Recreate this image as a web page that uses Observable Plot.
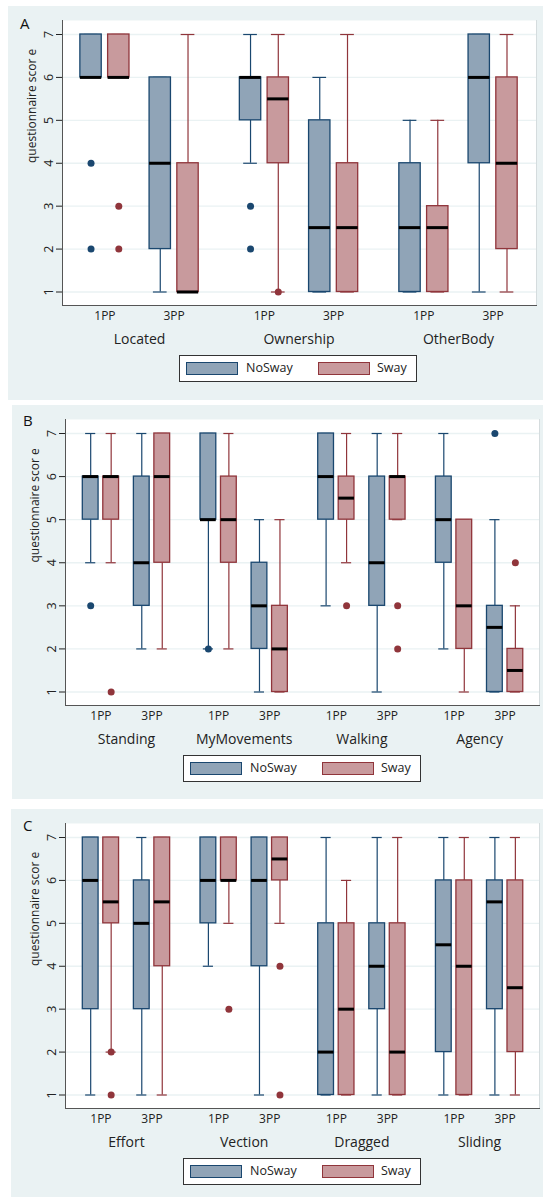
<!DOCTYPE html>
<html><head><meta charset="utf-8">
<script src="https://cdn.jsdelivr.net/npm/d3@7"></script>
<script src="https://cdn.jsdelivr.net/npm/@observablehq/plot@0.6"></script>
<style>
body{margin:0;background:#fff;width:543px;height:1197px;position:relative;overflow:hidden;font-family:"Open Sans",sans-serif;color:#222;}
.panel{position:absolute;background:#eaf2f3;}
.letter{position:absolute;font-size:15px;line-height:1;color:#111;}
.legend{position:absolute;background:#fff;border:1px solid #333;box-sizing:border-box;font-size:12.5px;}
.sw{position:absolute;box-sizing:border-box;width:52px;height:13px;top:6px;border-width:1.3px;border-style:solid;}
.lt{position:absolute;top:3px;line-height:18px;}
</style></head><body>
<script>
// ---------- data ----------
const perspectives = ["1PP", "3PP"];
const groups = ["NoSway", "Sway"];
const yTicks = [1, 2, 3, 4, 5, 6, 7];
const yTitle = "questionnaire scor e";

// box stats per variable x perspective: [whiskerLow, q1, median, q3, whiskerHigh]
const varsA = ["Located", "Ownership", "OtherBody"];
const noSwayA = [[6,6,6,7,7],[1,2,4,6,6],[4,5,6,6,7],[1,1,2.5,5,6],[1,1,2.5,4,5],[1,4,6,7,7]];
const swayA   = [[6,6,6,7,7],[1,1,1,4,7],[1,4,5.5,6,7],[1,1,2.5,4,7],[1,1,2.5,3,5],[1,2,4,6,7]];
const outNoSwayA = [[4,2],[],[3,2],[],[],[]];
const outSwayA   = [[3,2],[],[1],[],[],[]];

const varsB = ["Standing", "MyMovements", "Walking", "Agency"];
const noSwayB = [[4,5,6,6,7],[2,3,4,6,7],[2,5,5,7,7],[1,2,3,4,5],[3,5,6,7,7],[1,3,4,6,7],[2,4,5,6,7],[1,1,2.5,3,5]];
const swayB   = [[4,5,6,6,7],[2,4,6,7,7],[2,4,5,6,7],[1,1,2,3,5],[4,5,5.5,6,7],[5,5,6,6,7],[1,2,3,5,5],[1,1,1.5,2,3]];
const outNoSwayB = [[3],[],[2],[],[],[],[],[7]];
const outSwayB   = [[1],[],[],[],[3],[3,2],[],[4]];

const varsC = ["Effort", "Vection", "Dragged", "Sliding"];
const noSwayC = [[1,3,6,7,7],[1,3,5,6,7],[4,5,6,7,7],[1,4,6,7,7],[1,1,2,5,7],[1,3,4,5,7],[1,2,4.5,6,7],[1,3,5.5,6,7]];
const swayC   = [[2,5,5.5,7,7],[1,4,5.5,7,7],[5,6,6,7,7],[5,6,6.5,7,7],[1,1,3,5,6],[1,1,2,5,7],[1,1,4,6,7],[1,2,3.5,6,7]];
const outNoSwayC = [[],[],[],[],[],[],[],[]];
const outSwayC   = [[2,1],[],[3],[4,1],[],[],[],[]];

// ---------- style ----------
const fills = {NoSway: "#90a4b7", Sway: "#c89a9d"};
const strokes = {NoSway: "#1a476f", Sway: "#90353b"};
const PERSP_OFF = 0.217, GROUP_OFF = 0.087, HALF = 0.067, CAP = 0.043;

function buildRows(vars, stats, outs) {
  const boxes = [], outliers = [], ticks = [], cats = [];
  vars.forEach((v, vi) => {
    cats.push({label: v, pos: vi + 0.5});
    perspectives.forEach((p, pi) => {
      const pc = vi + 0.5 + (pi ? PERSP_OFF : -PERSP_OFF);
      ticks.push({label: p, pos: pc});
      groups.forEach((g, gi) => {
        const s = stats[gi][vi * 2 + pi];
        const pos = pc + (gi ? GROUP_OFF : -GROUP_OFF);
        boxes.push({variable: v, persp: p, group: g, pos, lo: s[0], q1: s[1], med: s[2], q3: s[3], hi: s[4]});
        outs[gi][vi * 2 + pi].forEach(o => outliers.push({group: g, pos, v: o}));
      });
    });
  });
  return {boxes, outliers, ticks, cats};
}

function chart(cfg) {
  const {boxes, outliers, ticks, cats} = buildRows(cfg.vars, cfg.stats, cfg.outs);
  const marks = [
    Plot.frame({fill: "white"}),
    Plot.ruleY(yTicks, {stroke: "#eaf2f3", strokeWidth: 1.3}),
    Plot.frame({anchor: "right", stroke: "#d5dcde"}),
  ];
  groups.forEach(g => {
    const rows = boxes.filter(d => d.group === g);
    const st = strokes[g];
    marks.push(
      Plot.ruleX(rows, {x: "pos", y1: "lo", y2: "q1", stroke: st, strokeWidth: 1.2}),
      Plot.ruleX(rows, {x: "pos", y1: "q3", y2: "hi", stroke: st, strokeWidth: 1.2}),
      Plot.ruleY(rows, {x1: d => d.pos - CAP, x2: d => d.pos + CAP, y: "lo", stroke: st, strokeWidth: 1.2}),
      Plot.ruleY(rows, {x1: d => d.pos - CAP, x2: d => d.pos + CAP, y: "hi", stroke: st, strokeWidth: 1.2}),
      Plot.rect(rows, {x1: d => d.pos - HALF, x2: d => d.pos + HALF, y1: "q1", y2: "q3", fill: fills[g], stroke: st, strokeWidth: 1.3}),
      Plot.ruleY(rows, {x1: d => d.pos - HALF, x2: d => d.pos + HALF, y: "med", stroke: "black", strokeWidth: 3}),
      Plot.dot(outliers.filter(d => d.group === g), {x: "pos", y: "v", r: 3.5, fill: st, stroke: null})
    );
  });
  marks.push(
    Plot.frame({anchor: "left", stroke: "#555"}),
    Plot.frame({anchor: "bottom", stroke: "#555"}),
    Plot.axisY({ticks: yTicks, tickRotate: -90, tickSize: 6, tickPadding: 4, fontSize: 12.5, tickFormat: d => String(d)}),
    Plot.text([yTitle], {frameAnchor: "left", rotate: -90, dx: -30, fontSize: 12}),
    Plot.text(ticks, {x: "pos", text: "label", frameAnchor: "bottom", dy: 11, fontSize: 12, lineAnchor: "middle"}),
    Plot.text(cats, {x: "pos", text: "label", frameAnchor: "bottom", dy: 34, fontSize: 14, lineAnchor: "middle"})
  );
  return Plot.plot({
    width: cfg.width, height: cfg.height,
    marginLeft: cfg.mL, marginRight: cfg.mR, marginTop: 14, marginBottom: cfg.height - 14 - cfg.frameH,
    style: {background: "transparent", fontFamily: "Open Sans", color: "#222", overflow: "visible"},
    x: {domain: cfg.xDomain, axis: null},
    y: {domain: [1, 7], insetTop: 14, insetBottom: 13.5, axis: null},
    marks
  });
}

const panels = [
  {letter: "A", left: 8, top: 6, w: 535, h: 394, frameH: 285, height: 344, mL: 54, mR: 7, xDomain: [0.017, 2.989],
   vars: varsA, stats: [noSwayA, swayA], outs: [outNoSwayA, outSwayA], lTop: 9.5, lLeft: 12, legLeft: 171},
  {letter: "B", left: 12, top: 405, w: 531, h: 394, frameH: 286, height: 345, mL: 53, mR: 4, xDomain: [-0.018, 4.009],
   vars: varsB, stats: [noSwayB, swayB], outs: [outNoSwayB, outSwayB], lTop: 7.5, lLeft: 11, legLeft: 171},
  {letter: "C", left: 11, top: 809, w: 532, h: 388, frameH: 285, height: 344, mL: 54, mR: 4, xDomain: [-0.018, 4.009],
   vars: varsC, stats: [noSwayC, swayC], outs: [outNoSwayC, outSwayC], lTop: 8.5, lLeft: 12, legLeft: 172},
];

panels.forEach(p => {
  const div = document.createElement("div");
  div.className = "panel";
  Object.assign(div.style, {left: p.left + "px", top: p.top + "px", width: p.w + "px", height: p.h + "px"});
  const svg = chart({...p, width: p.w});
  svg.style.position = "absolute"; svg.style.left = "0px"; svg.style.top = "0px";
  div.appendChild(svg);
  const letter = document.createElement("div");
  letter.className = "letter";
  letter.textContent = p.letter;
  Object.assign(letter.style, {left: p.lLeft + "px", top: p.lTop + "px"});
  div.appendChild(letter);
  const leg = document.createElement("div");
  leg.className = "legend";
  Object.assign(leg.style, {left: p.legLeft + "px", top: (p.height + 5) + "px", width: "238px", height: "27px"});
  const items = [[groups[0], 6, 66], [groups[1], 138, 197]];
  items.forEach(([g, sx, tx]) => {
    const sw = document.createElement("div");
    sw.className = "sw";
    Object.assign(sw.style, {left: sx + "px", background: fills[g], borderColor: strokes[g]});
    leg.appendChild(sw);
    const t = document.createElement("div");
    t.className = "lt"; t.textContent = g; t.style.left = tx + "px";
    leg.appendChild(t);
  });
  div.appendChild(leg);
  document.body.appendChild(div);
});
</script>
</body></html>
